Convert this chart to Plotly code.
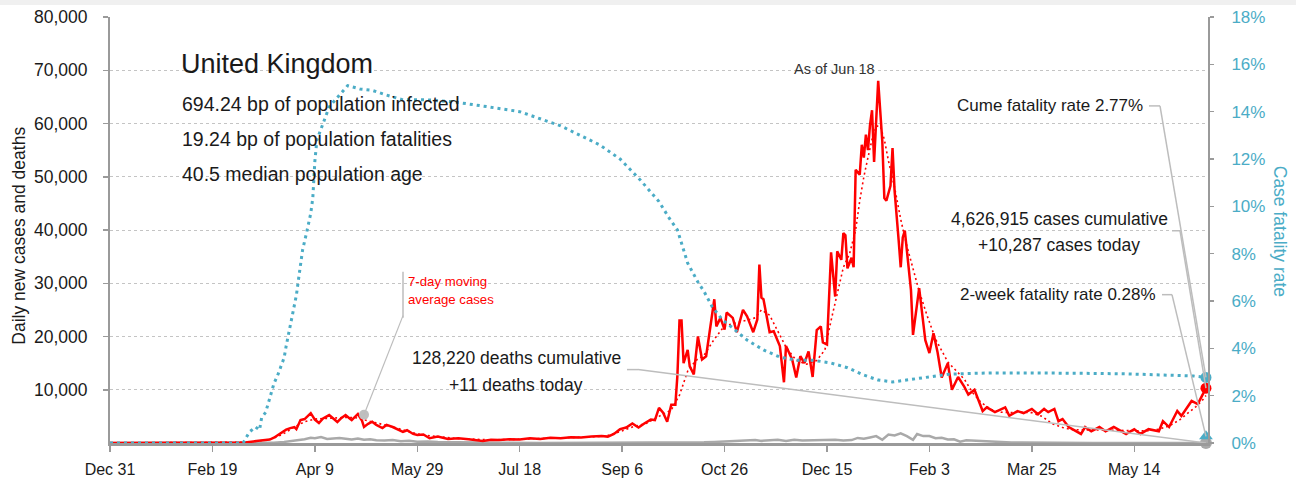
import pandas as pd
import plotly.graph_objects as go

START = pd.Timestamp("2019-12-31")
RANGE_DAYS = 536

# ---------------- data (day offset from Dec 31, 2019) ----------------
case_days = [0, 40, 60, 66, 70, 74, 78, 80, 82, 84,
             86, 88, 90, 91, 93, 95, 97, 98, 100, 102,
             104, 107, 109, 111, 113, 115, 117, 118, 121, 123,
             124, 126, 128, 130, 133, 135, 138, 140, 143, 145,
             148, 150, 153, 156, 160, 165, 170, 175, 180, 182,
             186, 190, 195, 200, 205, 210, 215, 220, 225, 230,
             235, 240, 243, 246, 249, 252, 255, 258, 261, 264,
             266, 268, 270, 272, 274, 276, 277, 278, 279, 280,
             282, 283, 285, 287, 289, 291, 295, 296, 298, 300,
             301, 304, 306, 309, 311, 314, 316, 317, 318, 319,
             322, 324, 327, 329, 330, 333, 335, 337, 339, 341,
             343, 345, 347, 348, 350, 352, 354, 355, 357, 358,
             359, 360, 362, 363, 364, 366, 367, 368, 369, 370,
             371, 372, 373, 375, 377, 378, 379, 381, 382, 383,
             385, 386, 387, 388, 391, 392, 395, 398, 400, 402,
             404, 406, 409, 411, 414, 417, 419, 422, 426, 428,
             432, 437, 439, 443, 446, 450, 453, 456, 458, 461,
             463, 465, 468, 470, 474, 476, 479, 483, 486, 490,
             496, 500, 503, 507, 512, 514, 517, 521, 523, 528,
             531, 533, 535]
case_vals = [0, 0, 20, 100, 300, 500, 650, 1000, 1500, 2000,
             2500, 2800, 3000, 2600, 4300, 4500, 5250, 5600, 4400, 3750,
             4600, 5250, 4600, 3950, 4700, 5250, 4600, 4300, 5450, 4200,
             3000, 3600, 4000, 3400, 2800, 3400, 3000, 2600, 2100, 2400,
             1700, 1500, 1600, 900, 1200, 750, 900, 700, 500, 400,
             600, 550, 700, 650, 900, 750, 1000, 900, 1100, 1050,
             1200, 1300, 1200, 1700, 2600, 2900, 3650, 2900, 3700, 4400,
             4300, 6600, 5700, 4000, 7200, 7200, 12800, 23000, 23000, 15000,
             17500, 14400, 12900, 20000, 15700, 16300, 27000, 21900, 23500, 21300,
             24500, 23500, 20800, 25000, 23800, 20800, 23200, 33500, 27300, 27000,
             20800, 21000, 18200, 11400, 18200, 15700, 12300, 16300, 15000, 17200,
             12400, 21200, 21900, 18900, 18500, 35800, 27500, 36000, 34400, 39400,
             39000, 32800, 34800, 33000, 51300, 50400, 56000, 53600, 57900, 55000,
             59700, 62500, 52800, 68000, 56700, 46000, 45500, 48300, 55400, 47400,
             38000, 33000, 38600, 39900, 28700, 20300, 29100, 19300, 16900, 20600,
             17000, 12300, 15000, 10000, 12400, 10600, 9100, 10000, 6000, 6700,
             5800, 6700, 5100, 6000, 5600, 6400, 5400, 6400, 5800, 6400,
             4100, 4500, 3000, 2600, 1700, 3000, 2200, 3000, 2200, 3000,
             1700, 2600, 1700, 2600, 2200, 4100, 3000, 6000, 5100, 7900,
             7300, 8800, 10287]

avg_days = [0, 60, 68, 75, 80, 85, 90, 95, 100, 105,
            110, 115, 120, 125, 130, 135, 140, 145, 150, 155,
            160, 168, 175, 185, 195, 205, 215, 225, 235, 242,
            248, 255, 262, 268, 274, 278, 282, 286, 290, 295,
            300, 305, 310, 315, 318, 322, 326, 330, 335, 340,
            345, 349, 352, 355, 358, 361, 364, 366, 368, 370,
            372, 374, 376, 378, 380, 383, 386, 389, 392, 395,
            399, 403, 409, 417, 421, 425, 430, 435, 440, 445,
            450, 455, 460, 465, 470, 475, 480, 490, 500, 507,
            512, 517, 522, 526, 530, 533, 535]
avg_vals = [0, 20, 150, 500, 900, 1800, 3000, 4000, 4500, 4600,
            4700, 4800, 4750, 4300, 3800, 3300, 2800, 2200, 1700, 1400,
            1200, 900, 750, 600, 650, 750, 850, 950, 1150, 1300,
            2000, 3000, 3700, 5000, 6200, 9000, 13500, 15500, 16500, 19500,
            22000, 22500, 23000, 23500, 25000, 24000, 21000, 18000, 15500, 14800,
            15500, 17500, 23000, 28000, 33000, 35500, 40000, 45500, 50000, 53600,
            57000, 59500, 59500, 57000, 53000, 48000, 42000, 37000, 33000, 28500,
            23800, 19500, 15200, 12000, 9500, 7700, 6300, 5800, 5700, 5800,
            5700, 5000, 3600, 2900, 2500, 2500, 2500, 2400, 2300, 2300,
            2600, 3200, 4300, 5500, 6800, 7900, 8900]

death_days = [0, 65, 70, 75, 80, 85, 90, 95, 98, 100,
              103, 106, 109, 112, 115, 118, 121, 124, 127, 130,
              134, 138, 142, 146, 150, 155, 160, 165, 170, 180,
              190, 210, 240, 260, 270, 280, 290, 295, 300, 305,
              310, 315, 318, 322, 326, 330, 334, 338, 342, 346,
              350, 354, 358, 362, 365, 368, 371, 374, 377, 380,
              383, 386, 389, 392, 394, 397, 400, 403, 406, 409,
              412, 415, 418, 421, 425, 430, 435, 440, 445, 450,
              460, 470, 480, 500, 520, 535]
death_vals = [0, 0, 0, 10, 50, 200, 400, 700, 1000, 900,
              1100, 750, 850, 950, 800, 650, 850, 600, 700, 500,
              450, 550, 350, 400, 250, 300, 180, 150, 100, 80,
              50, 20, 10, 15, 40, 70, 130, 190, 250, 300,
              400, 550, 400, 550, 600, 400, 600, 450, 500, 550,
              500, 600, 450, 550, 950, 800, 1050, 1300, 600, 1600,
              1400, 1800, 1300, 600, 1700, 1300, 1300, 900, 1000, 650,
              700, 250, 500, 450, 250, 300, 150, 100, 80, 60,
              30, 20, 15, 10, 10, 11]

cfr_days = [0, 65, 68, 71, 73, 74, 76, 78, 80, 82,
            85, 86, 89, 91, 92, 93, 94, 96, 98, 99,
            100, 101, 104, 107, 111, 116, 122, 128, 135, 143,
            155, 169, 185, 200, 220, 239, 249, 259, 268, 273,
            277, 282, 287, 290, 294, 299, 304, 311, 319, 327,
            335, 343, 352, 360, 368, 375, 382, 390, 399, 409,
            420, 431, 450, 464, 480, 497, 515, 529, 535]
cfr_vals = [0, 0, 0.46, 0.68, 0.55, 1.06, 1.3, 1.86, 2.5, 2.9,
            3.6, 4.1, 5.4, 6.25, 6.9, 7.5, 8.15, 8.9, 9.7, 10.35,
            11.9, 12.8, 13.5, 14.2, 14.6, 15.1, 14.96, 14.9, 14.7, 14.5,
            14.5, 14.4, 14.2, 14.0, 13.4, 12.6, 12.0, 11.1, 10.2, 9.5,
            9.0, 7.6, 6.8, 6.4, 5.75, 5.2, 4.86, 4.35, 3.93, 3.63,
            3.5, 3.5, 3.38, 3.18, 2.87, 2.66, 2.58, 2.68, 2.79, 2.9,
            2.94, 2.96, 2.96, 2.96, 2.94, 2.92, 2.88, 2.83, 2.77]

two_week_rate = 0.28
label_dot_day = 124
label_dot_val = 5300

tick_days = [0, 50, 100, 150, 200, 250, 300, 350, 400, 450, 500]
tick_labels = ["Dec 31", "Feb 19", "Apr 9", "May 29", "Jul 18", "Sep 6",
               "Oct 26", "Dec 15", "Feb 3", "Mar 25", "May 14"]
left_ticks = [10000, 20000, 30000, 40000, 50000, 60000, 70000, 80000]
right_ticks = [0, 2, 4, 6, 8, 10, 12, 14, 16, 18]
right_labels = [f"{v}%" for v in right_ticks]

# ---------------- styling / geometry ----------------
RED = "#ff0000"
BLUE = "#4bacc6"
GRAY = "#a9a9a9"
LEAD = "#bdbdbd"
AXIS = "#9a9a9a"
TXT = "#1a1a1a"
FONT = "Liberation Sans, Arial, sans-serif"

W, H = 1296, 484
L, R, T, B = 110, 1208, 17, 443.5


def dt(d):
    return START + pd.Timedelta(days=float(d))


def dates(days):
    return [dt(d) for d in days]


def px(x):
    return (x - L) / (R - L)


def py(y):
    return (B - y) / (B - T)


def day_at(x):
    return (x - L) / (R - L) * RANGE_DAYS


def y1_at(y):
    return (B - y) / (B - T) * 80000


def y2_at(y):
    return (B - y) / (B - T) * 18


fig = go.Figure()

fig.add_trace(go.Scatter(x=dates(death_days), y=death_vals, mode="lines",
                         line=dict(color=GRAY, width=2.5), hoverinfo="skip"))
fig.add_trace(go.Scatter(x=dates(avg_days), y=avg_vals, mode="lines",
                         line=dict(color=RED, width=1.6, dash="2px,3px"), hoverinfo="skip"))
fig.add_trace(go.Scatter(x=dates(case_days), y=case_vals, mode="lines",
                         line=dict(color=RED, width=2.5), hoverinfo="skip"))
fig.add_trace(go.Scatter(x=dates(cfr_days), y=cfr_vals, yaxis="y2", mode="lines",
                         line=dict(color=BLUE, width=3, dash="3px,4px"), hoverinfo="skip"))

# end markers
fig.add_trace(go.Scatter(x=[dt(death_days[-1])], y=[death_vals[-1]], mode="markers",
                         marker=dict(color=GRAY, size=12), cliponaxis=False, hoverinfo="skip"))
fig.add_trace(go.Scatter(x=[dt(case_days[-1])], y=[case_vals[-1]], mode="markers",
                         marker=dict(color=RED, size=11), cliponaxis=False, hoverinfo="skip"))
fig.add_trace(go.Scatter(x=[dt(label_dot_day)], y=[label_dot_val], mode="markers",
                         marker=dict(color="#bfbfbf", size=10), cliponaxis=False, hoverinfo="skip"))
fig.add_trace(go.Scatter(x=[dt(cfr_days[-1])], y=[two_week_rate], yaxis="y2", mode="markers",
                         marker=dict(color=BLUE, size=12, symbol="triangle-up"),
                         cliponaxis=False, hoverinfo="skip"))
fig.add_trace(go.Scatter(x=[dt(cfr_days[-1])], y=[cfr_vals[-1]], yaxis="y2", mode="markers",
                         marker=dict(color=BLUE, size=11), cliponaxis=False, hoverinfo="skip"))

shapes = []
# top grey band
shapes.append(dict(type="rect", xref="paper", yref="paper", x0=px(-10), x1=px(W + 10),
                   y0=py(5), y1=py(-5), fillcolor="#f0f0f0", line=dict(width=0), layer="below"))


def leader(yref, x_start, x_knee, y_pix, end_x, end_y, conv):
    shapes.append(dict(type="line", xref="x", yref=yref, x0=dt(day_at(x_start)), x1=dt(day_at(x_knee)),
                       y0=conv(y_pix), y1=conv(y_pix), line=dict(color=LEAD, width=1.5)))
    shapes.append(dict(type="line", xref="x", yref=yref, x0=dt(day_at(x_knee)), x1=end_x,
                       y0=conv(y_pix), y1=end_y, line=dict(color=LEAD, width=1.5)))


leader("y2", 1149, 1160, 106, dt(cfr_days[-1]), cfr_vals[-1], y2_at)
leader("y", 1172, 1180, 231, dt(case_days[-1]), case_vals[-1], y1_at)
leader("y2", 1162, 1172, 295, dt(cfr_days[-1]), two_week_rate, y2_at)
leader("y", 627, 638, 370, dt(death_days[-1]), death_vals[-1], y1_at)
# 7-day label leader
shapes.append(dict(type="line", xref="x", yref="y", x0=dt(day_at(403)), x1=dt(day_at(403)),
                   y0=y1_at(272), y1=y1_at(318), line=dict(color=LEAD, width=1.5)))
shapes.append(dict(type="line", xref="x", yref="y", x0=dt(day_at(403)), x1=dt(label_dot_day),
                   y0=y1_at(316), y1=label_dot_val, line=dict(color=LEAD, width=1.2)))

annotations = []


def text(s, x, y, size, xanchor="left", color=TXT, family=FONT):
    annotations.append(dict(text=s, x=px(x), y=py(y), xref="paper", yref="paper",
                            xanchor=xanchor, yanchor="middle", showarrow=False,
                            font=dict(size=size, color=color, family=family)))


text("United Kingdom", 179, 64, 27)
text("694.24 bp of population infected", 180, 104, 19.5)
text("19.24 bp of population fatalities", 180, 139, 19.5)
text("40.5 median population age", 180, 174, 19.5)
text("As of Jun 18", 834, 69, 14.5, xanchor="center", color="#333333")
text("Cume fatality rate 2.77%", 1145, 106, 17, xanchor="right")
text("4,626,915 cases cumulative", 1059, 219, 17.5, xanchor="center")
text("+10,287 cases today", 1059, 245, 17.5, xanchor="center")
text("2-week fatality rate 0.28%", 1158, 295, 17, xanchor="right")
text("128,220 deaths cumulative", 516, 358, 17.5, xanchor="center")
text("+11 deaths today", 516, 385, 17.5, xanchor="center")
text("7-day moving", 406, 282, 13.2, color=RED)
text("average cases", 406, 300, 13.2, color=RED)

# axis titles
annotations.append(dict(text="Daily new cases and deaths", x=px(19), y=py(236), xref="paper", yref="paper",
                        textangle=-90, showarrow=False, xanchor="center", yanchor="middle",
                        font=dict(size=17.5, color=TXT, family=FONT)))
annotations.append(dict(text="Case fatality rate", x=px(1280), y=py(231), xref="paper", yref="paper",
                        textangle=90, showarrow=False, xanchor="center", yanchor="middle",
                        font=dict(size=17.5, color=BLUE, family=FONT)))

fig.update_layout(
    width=W, height=H,
    margin=dict(l=L, r=W - R, t=T, b=H - B, autoexpand=False),
    paper_bgcolor="white", plot_bgcolor="white",
    showlegend=False, hovermode=False,
    font=dict(family=FONT, color=TXT),
    shapes=shapes, annotations=annotations,
    xaxis=dict(type="date", range=[dt(0), dt(RANGE_DAYS)],
               tickvals=dates(tick_days), ticktext=tick_labels,
               ticks="outside", ticklen=6, tickcolor=AXIS, tickwidth=1.5,
               showline=True, linecolor=AXIS, linewidth=2.5,
               showgrid=False, zeroline=False,
               tickfont=dict(size=16, color=TXT), ticklabelstandoff=4),
    yaxis=dict(range=[0, 80000], tickvals=left_ticks, tickformat=",d",
               ticks="outside", ticklen=5, tickcolor=AXIS, tickwidth=1.5,
               showline=True, linecolor=AXIS, linewidth=2,
               showgrid=True, gridcolor="#c4c4c4", griddash="dot", gridwidth=1,
               zeroline=False, tickfont=dict(size=17.5, color=TXT), ticklabelstandoff=12),
    yaxis2=dict(range=[0, 18], tickvals=right_ticks, ticktext=right_labels,
                overlaying="y", side="right",
                ticks="outside", ticklen=4, tickcolor=AXIS, tickwidth=1.5,
                showline=True, linecolor=AXIS, linewidth=2,
                showgrid=False, zeroline=False,
                tickfont=dict(size=17, color=BLUE), ticklabelstandoff=14),
)

fig.write_html("out.html", config={"displayModeBar": False, "staticPlot": True},
               post_script="document.body.style.margin='0';")
